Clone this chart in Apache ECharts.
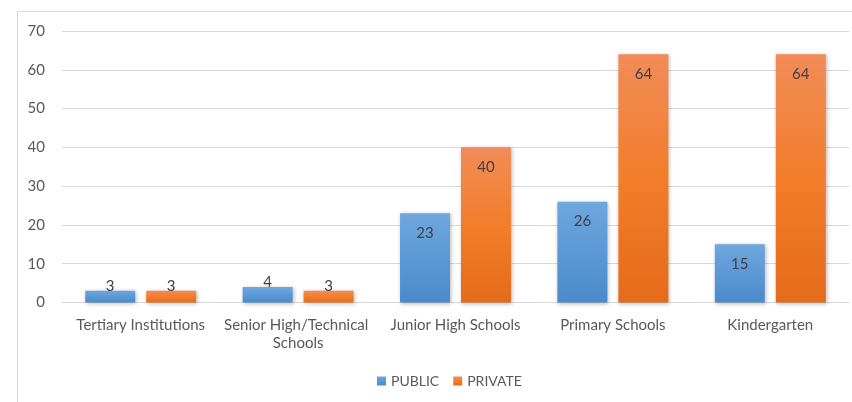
<!DOCTYPE html>
<html>
<head>
<meta charset="utf-8">
<script src="https://cdn.jsdelivr.net/npm/echarts@6/dist/echarts.min.js"></script>
<style>
html,body{margin:0;padding:0;background:#fff;}
#chart{width:852px;height:402px;}
</style>
</head>
<body>
<div id="chart"></div>
<script>
const categories = ["Tertiary Institutions", "Senior High/Technical Schools", "Junior High Schools", "Primary Schools", "Kindergarten"];
const publicValues = [3, 4, 23, 26, 15];
const privateValues = [3, 3, 40, 64, 64];
const seriesNames = ["PUBLIC", "PRIVATE"];
const yTicks = { min: 0, max: 70, interval: 10 };

const FONT = "Lato, 'Open Sans', sans-serif";
const chart = echarts.init(document.getElementById('chart'), null, {renderer: 'canvas'});

function grad(top, mid, bottom) {
  return new echarts.graphic.LinearGradient(0, 0, 0, 1, [
    {offset: 0, color: top}, {offset: 0.5, color: mid}, {offset: 1, color: bottom}
  ]);
}
function makeData(values) {
  return values.map(v => ({
    value: v,
    label: v < 5 ? {position: 'top', distance: -3} : {position: 'insideTop', distance: 12}
  }));
}
const labelStyle = {show: true, color: '#404040', fontSize: 15, fontFamily: FONT};
const shadow = {shadowBlur: 4, shadowColor: 'rgba(0,0,0,0.28)', shadowOffsetX: 1, shadowOffsetY: 1};

chart.setOption({
  animation: false,
  graphic: [{
    type: 'rect', shape: {x: 17.5, y: 11.5, width: 900, height: 500},
    style: {fill: 'none', stroke: '#d9d9d9', lineWidth: 1}, silent: true, z: -1
  }],
  grid: {left: 62, right: 3, top: 31, bottom: 99.5, containLabel: false},
  legend: {
    bottom: 9, left: 372,
    itemWidth: 9, itemHeight: 9, itemGap: 14,
    icon: 'rect',
    textStyle: {color: '#595959', fontSize: 14, fontFamily: FONT},
    data: seriesNames
  },
  xAxis: {
    type: 'category', data: categories,
    axisLine: {lineStyle: {color: '#d9d9d9', width: 1}},
    axisTick: {show: false},
    axisLabel: {color: '#595959', fontSize: 15, fontFamily: FONT, margin: 14, interval: 0,
      width: 156, overflow: 'break', lineHeight: 18}
  },
  yAxis: {
    type: 'value', min: yTicks.min, max: yTicks.max, interval: yTicks.interval,
    axisLine: {show: false}, axisTick: {show: false},
    splitLine: {lineStyle: {color: '#d9d9d9', width: 1}},
    axisLabel: {color: '#595959', fontSize: 15, fontFamily: FONT, margin: 17}
  },
  series: [
    {name: seriesNames[0], type: 'bar', data: makeData(publicValues),
     barGap: '22%', barCategoryGap: '29.5%',
     itemStyle: Object.assign({color: grad('#6fa7de', '#5b98d6', '#4a8acb')}, shadow),
     label: labelStyle},
    {name: seriesNames[1], type: 'bar', data: makeData(privateValues),
     barGap: '22%', barCategoryGap: '29.5%',
     itemStyle: Object.assign({color: grad('#f18c58', '#f27d2a', '#e46b1b')}, shadow),
     label: labelStyle}
  ]
});
</script>
</body>
</html>
